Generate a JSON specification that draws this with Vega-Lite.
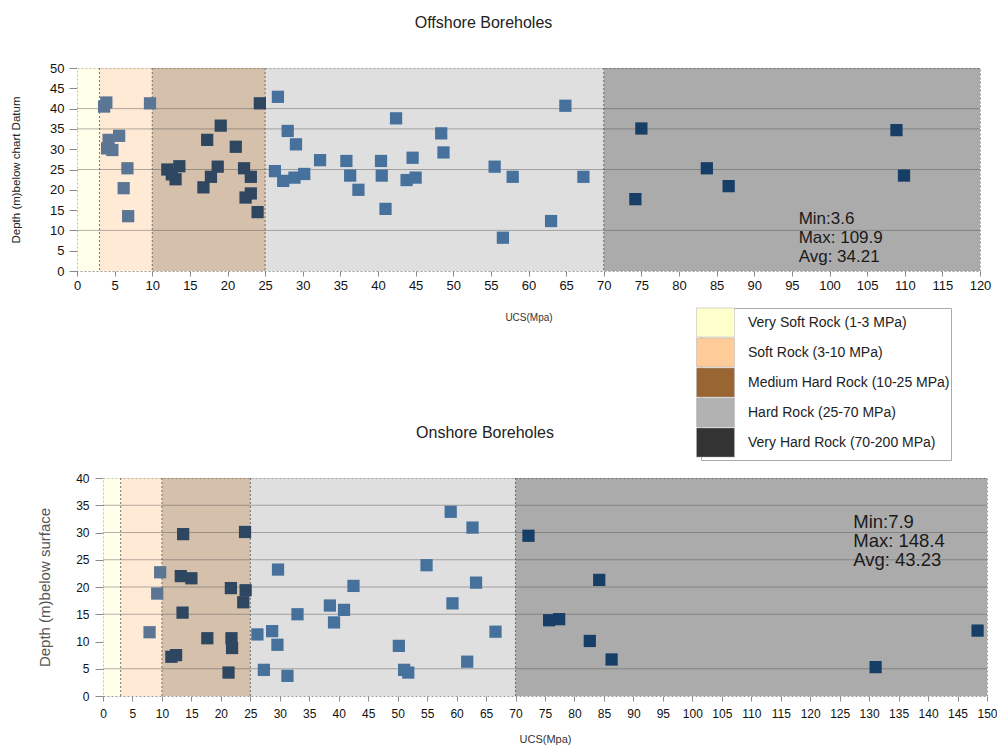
{
  "$schema": "https://vega.github.io/schema/vega-lite/v6.json",
  "padding": {"left": 10, "top": 14, "right": 0, "bottom": 0},
  "background": "white",
  "config": {
    "font": "Liberation Sans",
    "view": {"stroke": "#9a9a9a", "strokeDash": [2, 2]},
    "axis": {
      "grid": false,
      "domain": false,
      "format": "d",
      "tickColor": "#8a8a8a",
      "labelColor": "#111",
      "labelFont": "Liberation Sans",
      "labelFlush": false,
      "labelOverlap": false,
      "labelSeparation": 0,
      "labelBound": false,
      "titleFont": "Liberation Sans",
      "titleFontWeight": "normal"
    }
  },
  "datasets": {
    "offshore": [
      {"ucs": 3.9, "depth": 41.5}, {"ucs": 3.6, "depth": 40.5}, {"ucs": 9.7, "depth": 41.3},
      {"ucs": 4.2, "depth": 32.3}, {"ucs": 4.0, "depth": 30.2}, {"ucs": 4.7, "depth": 29.8},
      {"ucs": 5.6, "depth": 33.3}, {"ucs": 6.7, "depth": 25.3}, {"ucs": 6.2, "depth": 20.4},
      {"ucs": 6.8, "depth": 13.5},
      {"ucs": 12.0, "depth": 25.0}, {"ucs": 12.6, "depth": 23.8}, {"ucs": 13.1, "depth": 22.6},
      {"ucs": 13.6, "depth": 25.8}, {"ucs": 17.3, "depth": 32.3}, {"ucs": 16.8, "depth": 20.6},
      {"ucs": 17.8, "depth": 23.2}, {"ucs": 18.7, "depth": 25.7}, {"ucs": 19.1, "depth": 35.8},
      {"ucs": 21.1, "depth": 30.6}, {"ucs": 22.2, "depth": 25.3}, {"ucs": 23.1, "depth": 23.2},
      {"ucs": 22.4, "depth": 18.1}, {"ucs": 23.1, "depth": 19.1}, {"ucs": 24.0, "depth": 14.5},
      {"ucs": 24.3, "depth": 41.3},
      {"ucs": 26.7, "depth": 42.9}, {"ucs": 26.3, "depth": 24.6}, {"ucs": 27.4, "depth": 22.2},
      {"ucs": 28.0, "depth": 34.5}, {"ucs": 29.1, "depth": 31.2}, {"ucs": 28.9, "depth": 23.0},
      {"ucs": 30.2, "depth": 23.9}, {"ucs": 32.3, "depth": 27.3}, {"ucs": 35.8, "depth": 27.1},
      {"ucs": 36.3, "depth": 23.5}, {"ucs": 37.4, "depth": 20.0}, {"ucs": 40.4, "depth": 27.1},
      {"ucs": 40.5, "depth": 23.5}, {"ucs": 41.0, "depth": 15.3}, {"ucs": 42.4, "depth": 37.6},
      {"ucs": 43.8, "depth": 22.4}, {"ucs": 45.0, "depth": 23.0}, {"ucs": 44.6, "depth": 27.9},
      {"ucs": 48.4, "depth": 33.9}, {"ucs": 48.7, "depth": 29.2}, {"ucs": 55.5, "depth": 25.7},
      {"ucs": 56.6, "depth": 8.2}, {"ucs": 57.9, "depth": 23.2}, {"ucs": 63.0, "depth": 12.3},
      {"ucs": 64.9, "depth": 40.7}, {"ucs": 67.3, "depth": 23.2},
      {"ucs": 75.0, "depth": 35.1}, {"ucs": 74.2, "depth": 17.7}, {"ucs": 83.7, "depth": 25.3},
      {"ucs": 86.6, "depth": 20.9}, {"ucs": 108.9, "depth": 34.7}, {"ucs": 109.9, "depth": 23.5}
    ],
    "onshore": [
      {"ucs": 7.9, "depth": 11.7}, {"ucs": 9.2, "depth": 18.8}, {"ucs": 9.7, "depth": 22.7},
      {"ucs": 11.6, "depth": 7.2}, {"ucs": 12.4, "depth": 7.5}, {"ucs": 13.2, "depth": 22.0},
      {"ucs": 15.0, "depth": 21.6}, {"ucs": 13.5, "depth": 15.3}, {"ucs": 13.6, "depth": 29.7},
      {"ucs": 17.7, "depth": 10.6}, {"ucs": 21.3, "depth": 4.3}, {"ucs": 21.7, "depth": 19.8},
      {"ucs": 21.8, "depth": 10.6}, {"ucs": 21.9, "depth": 8.8}, {"ucs": 23.8, "depth": 17.2},
      {"ucs": 24.2, "depth": 19.4}, {"ucs": 24.1, "depth": 30.1},
      {"ucs": 26.2, "depth": 11.3}, {"ucs": 27.3, "depth": 4.8}, {"ucs": 28.7, "depth": 11.9},
      {"ucs": 29.6, "depth": 9.4}, {"ucs": 29.7, "depth": 23.2}, {"ucs": 31.3, "depth": 3.7},
      {"ucs": 33.0, "depth": 15.0}, {"ucs": 38.5, "depth": 16.6}, {"ucs": 39.2, "depth": 13.5},
      {"ucs": 40.9, "depth": 15.8}, {"ucs": 42.5, "depth": 20.2}, {"ucs": 50.2, "depth": 9.2},
      {"ucs": 51.1, "depth": 4.8}, {"ucs": 51.8, "depth": 4.3}, {"ucs": 54.9, "depth": 24.0},
      {"ucs": 59.0, "depth": 33.8}, {"ucs": 59.3, "depth": 17.0}, {"ucs": 61.8, "depth": 6.3},
      {"ucs": 62.7, "depth": 30.9}, {"ucs": 63.3, "depth": 20.8}, {"ucs": 66.6, "depth": 11.8},
      {"ucs": 72.2, "depth": 29.4}, {"ucs": 84.2, "depth": 21.3}, {"ucs": 75.7, "depth": 13.9},
      {"ucs": 77.4, "depth": 14.1}, {"ucs": 82.6, "depth": 10.1}, {"ucs": 86.3, "depth": 6.7},
      {"ucs": 131.1, "depth": 5.3}, {"ucs": 148.4, "depth": 12.0}
    ]
  },
  "vconcat": [
    {
      "width": 903,
      "height": 203,
      "title": {"text": "Offshore Boreholes", "fontSize": 16, "fontWeight": "normal", "color": "#222", "dx": -45, "offset": 31},
      "layer": [
        {
          "data": {"values": [
            {"rock": "Very Soft Rock (1-3 MPa)", "ucs": 0, "ucs_end": 3},
            {"rock": "Soft Rock (3-10 MPa)", "ucs": 3, "ucs_end": 10},
            {"rock": "Medium Hard Rock (10-25 MPa)", "ucs": 10, "ucs_end": 25},
            {"rock": "Hard Rock (25-70 MPa)", "ucs": 25, "ucs_end": 70},
            {"rock": "Very Hard Rock (70-200 MPa)", "ucs": 70, "ucs_end": 120}
          ]},
          "mark": {"type": "rect", "opacity": 0.41},
          "encoding": {
            "x": {"field": "ucs", "type": "quantitative", "scale": {"domain": [0, 120], "nice": false}},
            "x2": {"field": "ucs_end"},
            "color": {"field": "rock", "type": "nominal",
              "scale": {"domain": ["Very Soft Rock (1-3 MPa)", "Soft Rock (3-10 MPa)", "Medium Hard Rock (10-25 MPa)", "Hard Rock (25-70 MPa)", "Very Hard Rock (70-200 MPa)"],
                        "range": ["#ffffcc", "#ffcc99", "#996633", "#b2b2b2", "#333333"]},
              "legend": {"orient": "none", "legendX": 624, "legendY": 240, "title": null,
                         "symbolType": "M-1.46,-1.12L1.46,-1.12L1.46,1.12L-1.46,1.12Z", "symbolSize": 676,
                         "symbolOpacity": 1, "symbolStrokeColor": "#b0b0b0", "symbolStrokeWidth": 0.5,
                         "labelFontSize": 14, "labelColor": "#222", "labelOffset": 19, "labelLimit": 400,
                         "rowPadding": -4.5, "strokeColor": "#aaaaaa", "fillColor": "white", "padding": 1}}
          }
        },
        {
          "data": {"values": [{"depth": 10}, {"depth": 25}, {"depth": 35}, {"depth": 40}]},
          "mark": {"type": "rule", "color": "#555", "opacity": 0.45, "strokeWidth": 1},
          "encoding": {
            "y": {"field": "depth", "type": "quantitative", "scale": {"domain": [0, 50], "nice": false}}
          }
        },
        {
          "data": {"values": [{"ucs": 3}, {"ucs": 10}, {"ucs": 25}, {"ucs": 70}]},
          "mark": {"type": "rule", "color": "#555", "strokeWidth": 1, "strokeDash": [2, 2], "opacity": 0.8},
          "encoding": {"x": {"field": "ucs", "type": "quantitative"}}
        },
        {
          "data": {"name": "offshore"},
          "mark": {"type": "square", "size": 150, "opacity": 1},
          "encoding": {
            "x": {"field": "ucs", "type": "quantitative",
                  "axis": {"title": "UCS(Mpa)", "values": [0,5,10,15,20,25,30,35,40,45,50,55,60,65,70,75,80,85,90,95,100,105,110,115,120],
                           "tickCount": 60, "format": "d", "labelOverlap": false, "labelFlush": false,
                           "labelFontSize": 13, "tickSize": 5, "labelPadding": 3, "titleFontSize": 10, "titleColor": "#333", "titlePadding": 20}},
            "y": {"field": "depth", "type": "quantitative",
                  "axis": {"title": "Depth (m)below chart Datum", "values": [0,5,10,15,20,25,30,35,40,45,50],
                           "tickCount": 60, "format": "d", "labelOverlap": false, "labelFlush": false,
                           "labelFontSize": 13, "tickSize": 8, "labelPadding": 5, "titleFontSize": 11.5, "titleColor": "#222", "titlePadding": 28}},
            "color": {"condition": [
              {"test": "datum.ucs < 10", "value": "#5a7694"},
              {"test": "datum.ucs < 25", "value": "#2e4660"},
              {"test": "datum.ucs < 70", "value": "#46719c"}
            ], "value": "#173e66"}
          }
        },
        {
          "data": {"values": [{"ucs": 95.9, "depth": 14.8, "label": "Min:3.6\nMax: 109.9\nAvg: 34.21"}]},
          "mark": {"type": "text", "align": "left", "baseline": "top", "fontSize": 17, "lineHeight": 19, "lineBreak": "\n", "color": "#1a1a1a"},
          "encoding": {
            "x": {"field": "ucs", "type": "quantitative"},
            "y": {"field": "depth", "type": "quantitative"},
            "text": {"field": "label"}
          }
        }
      ]
    },
    {
      "hconcat": [
        {
          "width": 26,
          "height": 218,
          "view": {"stroke": null},
          "data": {"values": []},
          "mark": "point",
          "encoding": {}
        },
        {
          "width": 884,
          "height": 218,
          "title": {"text": "Onshore Boreholes", "fontSize": 16, "fontWeight": "normal", "color": "#222", "dx": -60, "offset": 31},
          "layer": [
            {
              "data": {"values": [
                {"rock": "Very Soft Rock (1-3 MPa)", "ucs": 0, "ucs_end": 3},
                {"rock": "Soft Rock (3-10 MPa)", "ucs": 3, "ucs_end": 10},
                {"rock": "Medium Hard Rock (10-25 MPa)", "ucs": 10, "ucs_end": 25},
                {"rock": "Hard Rock (25-70 MPa)", "ucs": 25, "ucs_end": 70},
                {"rock": "Very Hard Rock (70-200 MPa)", "ucs": 70, "ucs_end": 150}
              ]},
              "mark": {"type": "rect", "opacity": 0.41},
              "encoding": {
                "x": {"field": "ucs", "type": "quantitative", "scale": {"domain": [0, 150], "nice": false}},
                "x2": {"field": "ucs_end"},
                "color": {"field": "rock", "type": "nominal",
                  "scale": {"domain": ["Very Soft Rock (1-3 MPa)", "Soft Rock (3-10 MPa)", "Medium Hard Rock (10-25 MPa)", "Hard Rock (25-70 MPa)", "Very Hard Rock (70-200 MPa)"],
                            "range": ["#ffffcc", "#ffcc99", "#996633", "#b2b2b2", "#333333"]},
                  "legend": null}
              }
            },
            {
              "data": {"values": [{"depth": 5}, {"depth": 15}, {"depth": 20}, {"depth": 25}, {"depth": 30}, {"depth": 35}]},
              "mark": {"type": "rule", "color": "#555", "opacity": 0.45, "strokeWidth": 1},
              "encoding": {
                "y": {"field": "depth", "type": "quantitative", "scale": {"domain": [0, 40], "nice": false}}
              }
            },
            {
              "data": {"values": [{"ucs": 3}, {"ucs": 10}, {"ucs": 25}, {"ucs": 70}]},
              "mark": {"type": "rule", "color": "#555", "strokeWidth": 1, "strokeDash": [2, 2], "opacity": 0.8},
              "encoding": {"x": {"field": "ucs", "type": "quantitative"}}
            },
            {
              "data": {"name": "onshore"},
              "mark": {"type": "square", "size": 150, "opacity": 1},
              "encoding": {
                "x": {"field": "ucs", "type": "quantitative",
                      "axis": {"title": "UCS(Mpa)", "values": [0,5,10,15,20,25,30,35,40,45,50,55,60,65,70,75,80,85,90,95,100,105,110,115,120,125,130,135,140,145,150],
                               "tickCount": 60, "format": "d", "labelOverlap": false, "labelFlush": false,
                               "labelFontSize": 12, "tickSize": 5, "labelPadding": 7, "titleFontSize": 11, "titleColor": "#333", "titlePadding": 14}},
                "y": {"field": "depth", "type": "quantitative",
                      "axis": {"title": "Depth (m)below surface", "values": [0,5,10,15,20,25,30,35,40],
                               "tickCount": 60, "format": "d", "labelOverlap": false, "labelFlush": false,
                               "labelFontSize": 12, "tickSize": 8, "labelPadding": 6, "titleFontSize": 15, "titleColor": "#555", "titlePadding": 23}},
                "color": {"condition": [
                  {"test": "datum.ucs < 10", "value": "#5a7694"},
                  {"test": "datum.ucs < 25", "value": "#2e4660"},
                  {"test": "datum.ucs < 70", "value": "#46719c"}
                ], "value": "#173e66"}
              }
            },
            {
              "data": {"values": [{"ucs": 127.3, "depth": 33.5, "label": "Min:7.9\nMax: 148.4\nAvg: 43.23"}]},
              "mark": {"type": "text", "align": "left", "baseline": "top", "fontSize": 18.5, "lineHeight": 19, "lineBreak": "\n", "color": "#1a1a1a"},
              "encoding": {
                "x": {"field": "ucs", "type": "quantitative"},
                "y": {"field": "depth", "type": "quantitative"},
                "text": {"field": "label"}
              }
            }
          ]
        }
      ],
      "spacing": 0,
      "bounds": "flush"
    }
  ],
  "spacing": 207,
  "bounds": "flush",
  "resolve": {"scale": {"color": "independent"}}
}
